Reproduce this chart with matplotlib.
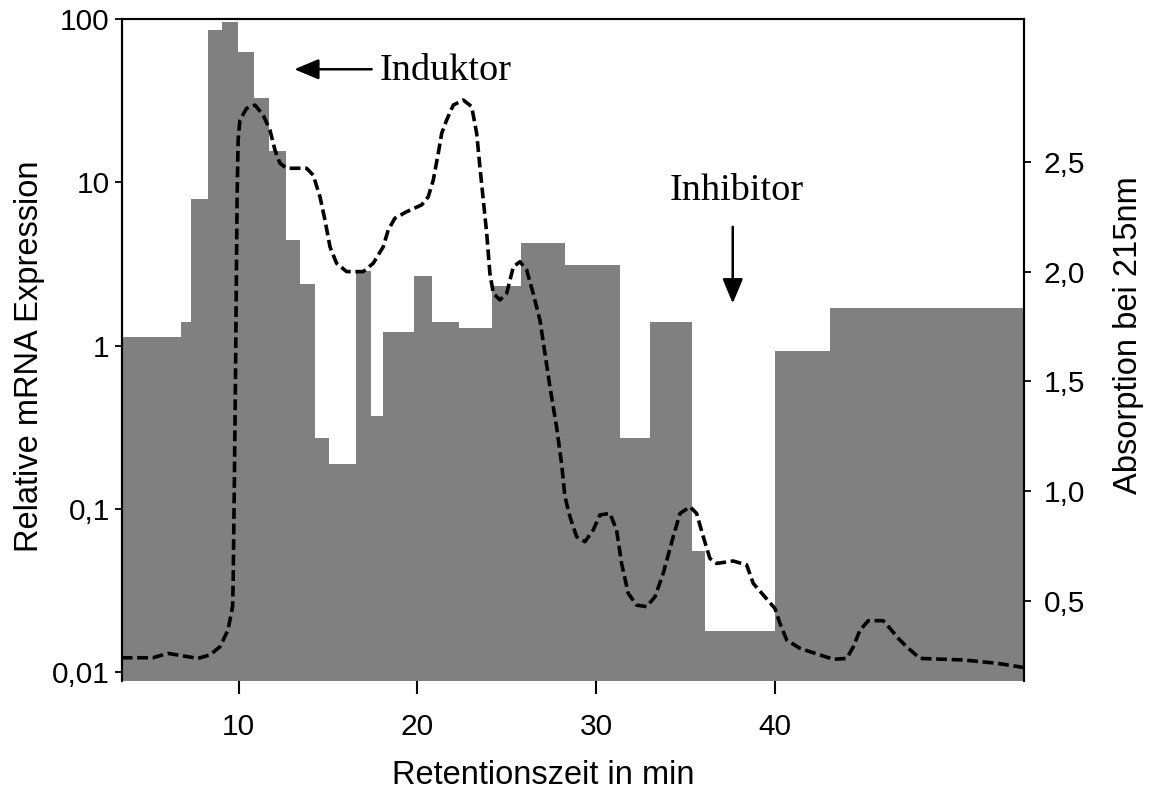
import matplotlib
matplotlib.use("Agg")
import matplotlib.pyplot as plt
from matplotlib.ticker import FixedLocator, FixedFormatter, NullLocator

# fraction bins (retention time in min) and relative mRNA expression per fraction
bin_edges = [3.45, 6.77, 7.33, 8.29, 9.08, 9.94, 10.85, 11.69, 12.63, 13.43,
             14.27, 15.05, 16.54, 17.40, 18.07, 19.81, 20.81, 22.33, 24.19,
             25.80, 28.26, 31.34, 33.02, 35.37, 36.10, 40.01, 43.09, 53.95]
expression = [1.13, 1.40, 7.91, 86.0, 96.3, 63.3, 32.8, 15.6, 4.43, 2.38,
              0.272, 0.188, 2.87, 0.371, 1.22, 2.67, 1.39, 1.29, 2.32, 4.23,
              3.12, 0.272, 1.39, 0.0552, 0.0178, 0.925, 1.70]

# UV trace, absorption at 215 nm
trace_time = [3.45, 5.20, 6.04, 7.72, 8.39, 8.95, 9.40, 9.66, 9.69, 9.76,
              9.82, 9.86, 9.91, 9.97, 10.07, 10.44, 10.91, 11.37, 11.75, 12.03,
              12.31, 12.68, 13.24, 13.80, 14.17, 14.55, 14.83, 15.11, 15.48, 16.04,
              16.97, 17.53, 18.09, 18.37, 18.74, 19.40, 20.24, 20.61, 20.89, 21.17,
              21.36, 21.64, 22.01, 22.57, 23.04, 23.32, 23.50, 23.69, 23.88, 24.06,
              24.25, 24.62, 25.00, 25.37, 25.74, 26.12, 26.48, 26.86, 27.14, 27.42,
              27.79, 28.07, 28.26, 28.54, 28.91, 29.38, 29.84, 30.22, 30.78, 31.15,
              31.43, 31.80, 32.27, 32.83, 33.30, 33.76, 34.32, 34.70, 35.26, 35.63,
              36.00, 36.37, 36.75, 37.68, 38.43, 38.80, 39.36, 40.01, 40.29, 40.67,
              41.41, 42.53, 43.28, 44.03, 44.40, 44.77, 45.24, 46.07, 46.45, 46.91,
              47.38, 48.13, 50.55, 52.42, 53.91]
trace_abs = [0.240, 0.240, 0.260, 0.237, 0.253, 0.290, 0.366, 0.473, 0.581, 1.050,
             1.506, 1.871, 2.327, 2.600, 2.691, 2.744, 2.759, 2.714, 2.645, 2.554,
             2.494, 2.471, 2.471, 2.471, 2.440, 2.341, 2.235, 2.113, 2.038, 2.000,
             2.000, 2.038, 2.113, 2.190, 2.243, 2.273, 2.304, 2.341, 2.417, 2.539,
             2.630, 2.691, 2.759, 2.782, 2.752, 2.630, 2.478, 2.326, 2.175, 1.992,
             1.901, 1.871, 1.901, 2.022, 2.045, 2.007, 1.901, 1.779, 1.628, 1.475,
             1.293, 1.126, 0.974, 0.883, 0.792, 0.769, 0.822, 0.891, 0.898, 0.822,
             0.670, 0.534, 0.480, 0.473, 0.518, 0.625, 0.792, 0.898, 0.928, 0.898,
             0.792, 0.693, 0.670, 0.681, 0.663, 0.579, 0.526, 0.465, 0.397, 0.321,
             0.283, 0.253, 0.233, 0.237, 0.290, 0.366, 0.409, 0.409, 0.374, 0.329,
             0.290, 0.237, 0.230, 0.215, 0.196]

x_ticks = [10, 20, 30, 40]
left_ticks = [0.01, 0.1, 1, 10, 100]
left_labels = ["0,01", "0,1", "1", "10", "100"]
right_ticks = [0.5, 1.0, 1.5, 2.0, 2.5]
right_labels = ["0,5", "1,0", "1,5", "2,0", "2,5"]

plt.rcParams['font.family'] = ['Liberation Sans', 'DejaVu Sans']

fig = plt.figure(figsize=(11.53, 7.94), dpi=100)
ax = fig.add_axes([0.1055, 0.1423, 0.7826, 0.8334])
ax.set_yscale('log')
ax.stairs(expression, bin_edges, fill=True, color='#808080', baseline=1e-4, lw=0)
ax.set_xlim(3.45, 53.95)
ax.set_ylim(0.0088, 100)

ax.xaxis.set_major_locator(FixedLocator(x_ticks))
ax.yaxis.set_major_locator(FixedLocator(left_ticks))
ax.yaxis.set_major_formatter(FixedFormatter(left_labels))
ax.yaxis.set_minor_locator(NullLocator())
ax.tick_params(axis='y', length=5, width=1.3, pad=3.5, labelsize=21.5)
ax.tick_params(axis='x', length=9.6, width=1.5, pad=13.5, labelsize=21.5)

ax2 = ax.twinx()
ax2.plot(trace_time, trace_abs, color='black', lw=2.6, ls=(0, (3, 1.3)),
         dash_capstyle='butt')
ax2.set_ylim(0.134, 3.15)
ax2.yaxis.set_major_locator(FixedLocator(right_ticks))
ax2.yaxis.set_major_formatter(FixedFormatter(right_labels))
ax2.tick_params(axis='y', length=5, width=1.3, pad=9, labelsize=21.5)

for a in (ax, ax2):
    a.spines['bottom'].set_visible(False)
    for s in ('left', 'right', 'top'):
        a.spines[s].set_linewidth(1.5)

# arrows + labels
serif = ['Liberation Serif', 'DejaVu Serif']
ax.annotate('', xy=(13.11, 49.4), xytext=(17.44, 49.4),
            arrowprops=dict(arrowstyle='-|>,head_length=0.6,head_width=0.25',
                            color='black', lw=1.8, mutation_scale=25,
                            shrinkA=0, shrinkB=0))
ax.text(17.90, 42.5, 'Induktor', family=serif, size=27.5, ha='left', va='baseline')
ax.annotate('', xy=(37.65, 1.815), xytext=(37.65, 5.35),
            arrowprops=dict(arrowstyle='-|>,head_length=0.6,head_width=0.25',
                            color='black', lw=1.8, mutation_scale=25,
                            shrinkA=0, shrinkB=0))
ax.text(37.87, 7.80, 'Inhibitor', family=serif, size=27.5, ha='center', va='baseline')

fig.text(0.026, 0.5516, 'Relative mRNA Expression', rotation=90,
         ha='center', va='center', size=23.5)
fig.text(0.979, 0.578, 'Absorption bei 215nm', rotation=90,
         ha='center', va='center', size=23.5)
fig.text(0.471, 0.013, 'Retentionszeit in min', ha='center', va='baseline', size=23.5)

fig.savefig('out.png', dpi=100)
